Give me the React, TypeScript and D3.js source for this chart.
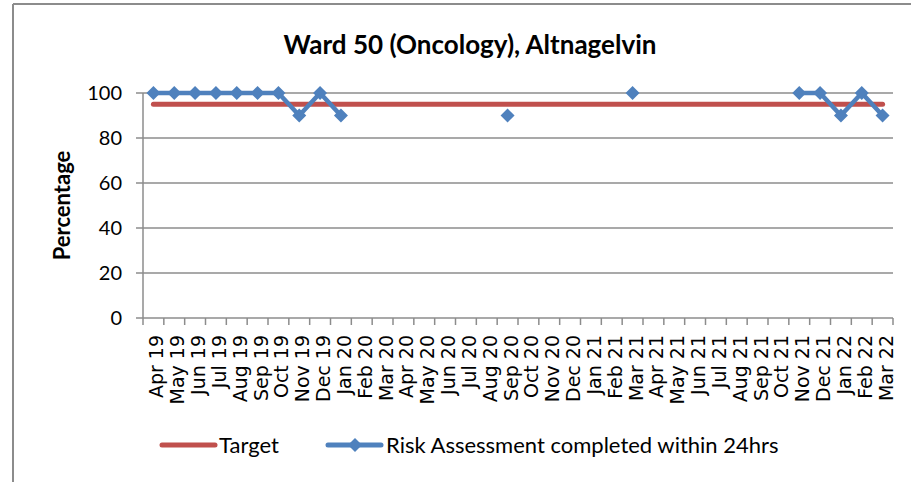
import React from "react";
import * as d3 from "d3";

const months = [
  "Apr 19", "May 19", "Jun 19", "Jul 19", "Aug 19", "Sep 19", "Oct 19", "Nov 19", "Dec 19",
  "Jan 20", "Feb 20", "Mar 20", "Apr 20", "May 20", "Jun 20", "Jul 20", "Aug 20", "Sep 20",
  "Oct 20", "Nov 20", "Dec 20", "Jan 21", "Feb 21", "Mar 21", "Apr 21", "May 21", "Jun 21",
  "Jul 21", "Aug 21", "Sep 21", "Oct 21", "Nov 21", "Dec 21", "Jan 22", "Feb 22", "Mar 22",
];

const target = months.map(() => 95);

const riskAssessment: (number | null)[] = [
  100, 100, 100, 100, 100, 100, 100, 90, 100,
  90, null, null, null, null, null, null, null, 90,
  null, null, null, null, null, 100, null, null, null,
  null, null, null, null, 100, 100, 90, 100, 90,
];

const yTicks = [0, 20, 40, 60, 80, 100];

const W = 911, H = 482;
const left = 143, right = 893, top = 93, bottom = 318;
const calibri = "Lato, 'Open Sans', sans-serif";
const red = "#C0504D", blue = "#4F81BD", grid = "#8c8c8c";

const App = () => {
  const x = d3.scaleBand().domain(months).range([left, right]);
  const y = d3.scaleLinear().domain([0, 100]).range([bottom, top]);
  const cx = (m: string) => (x(m) as number) + x.bandwidth() / 2;

  const targetLine = d3.line<number>()
    .x((_, i) => cx(months[i]))
    .y(d => y(d))(target) as string;

  const riskLine = d3.line<number | null>()
    .defined(d => d !== null)
    .x((_, i) => cx(months[i]))
    .y(d => y(d as number))(riskAssessment) as string;

  const diamond = (px: number, py: number, r = 7) =>
    `M${px},${py - r}L${px + r},${py}L${px},${py + r}L${px - r},${py}Z`;

  const ticks = d3.range(months.length + 1).map(i => left + i * x.step());

  return (
    <svg width={W} height={H} style={{ position: "absolute", left: 0, top: 0, background: "#fff" }}>
      {/* frame */}
      <line x1={13} x2={W} y1={4} y2={4} stroke={grid} strokeWidth={2} />
      <line x1={13} x2={13} y1={4} y2={H} stroke={grid} strokeWidth={2} />

      <text x={470} y={54} textAnchor="middle" fontFamily={calibri} fontWeight="bold" fontSize={26}>
        Ward 50 (Oncology), Altnagelvin
      </text>

      {/* gridlines */}
      {yTicks.map(t => (
        <g key={t}>
          <line x1={left - 7} x2={right} y1={y(t)} y2={y(t)} stroke={grid} strokeWidth={1.5} />
          <text x={122} y={y(t)} dy="0.36em" textAnchor="end" fontFamily={calibri} fontSize={20}>{t}</text>
        </g>
      ))}
      <line x1={left} x2={left} y1={top} y2={bottom} stroke={grid} strokeWidth={1.5} />
      {ticks.map((t, i) => (
        <line key={i} x1={t} x2={t} y1={bottom} y2={bottom + 7} stroke={grid} strokeWidth={1.5} />
      ))}

      {months.map(m => (
        <text key={m} transform={`translate(${cx(m) + 10},${bottom + 17}) rotate(-90)`}
          textAnchor="end" fontFamily="'DejaVu Sans', sans-serif" fontSize={19}>{m}</text>
      ))}

      <text transform={`translate(70,${(top + bottom) / 2}) rotate(-90)`} textAnchor="middle"
        fontFamily={calibri} fontWeight="bold" fontSize={22}>Percentage</text>

      <path d={targetLine} fill="none" stroke={red} strokeWidth={5} strokeLinecap="round" />
      <path d={riskLine} fill="none" stroke={blue} strokeWidth={4.5} />
      {riskAssessment.map((v, i) => v === null ? null : (
        <path key={i} d={diamond(cx(months[i]), y(v))} fill={blue} />
      ))}

      {/* legend */}
      <line x1={162} x2={215} y1={445} y2={445} stroke={red} strokeWidth={5} strokeLinecap="round" />
      <text x={219} y={445} dy="0.36em" fontFamily={calibri} fontSize={22}>Target</text>
      <line x1={328} x2={381} y1={445} y2={445} stroke={blue} strokeWidth={5} strokeLinecap="round" />
      <path d={diamond(355, 445)} fill={blue} />
      <text x={386} y={445} dy="0.36em" fontFamily={calibri} fontSize={22}>Risk Assessment completed within 24hrs</text>
    </svg>
  );
};

export default App;
